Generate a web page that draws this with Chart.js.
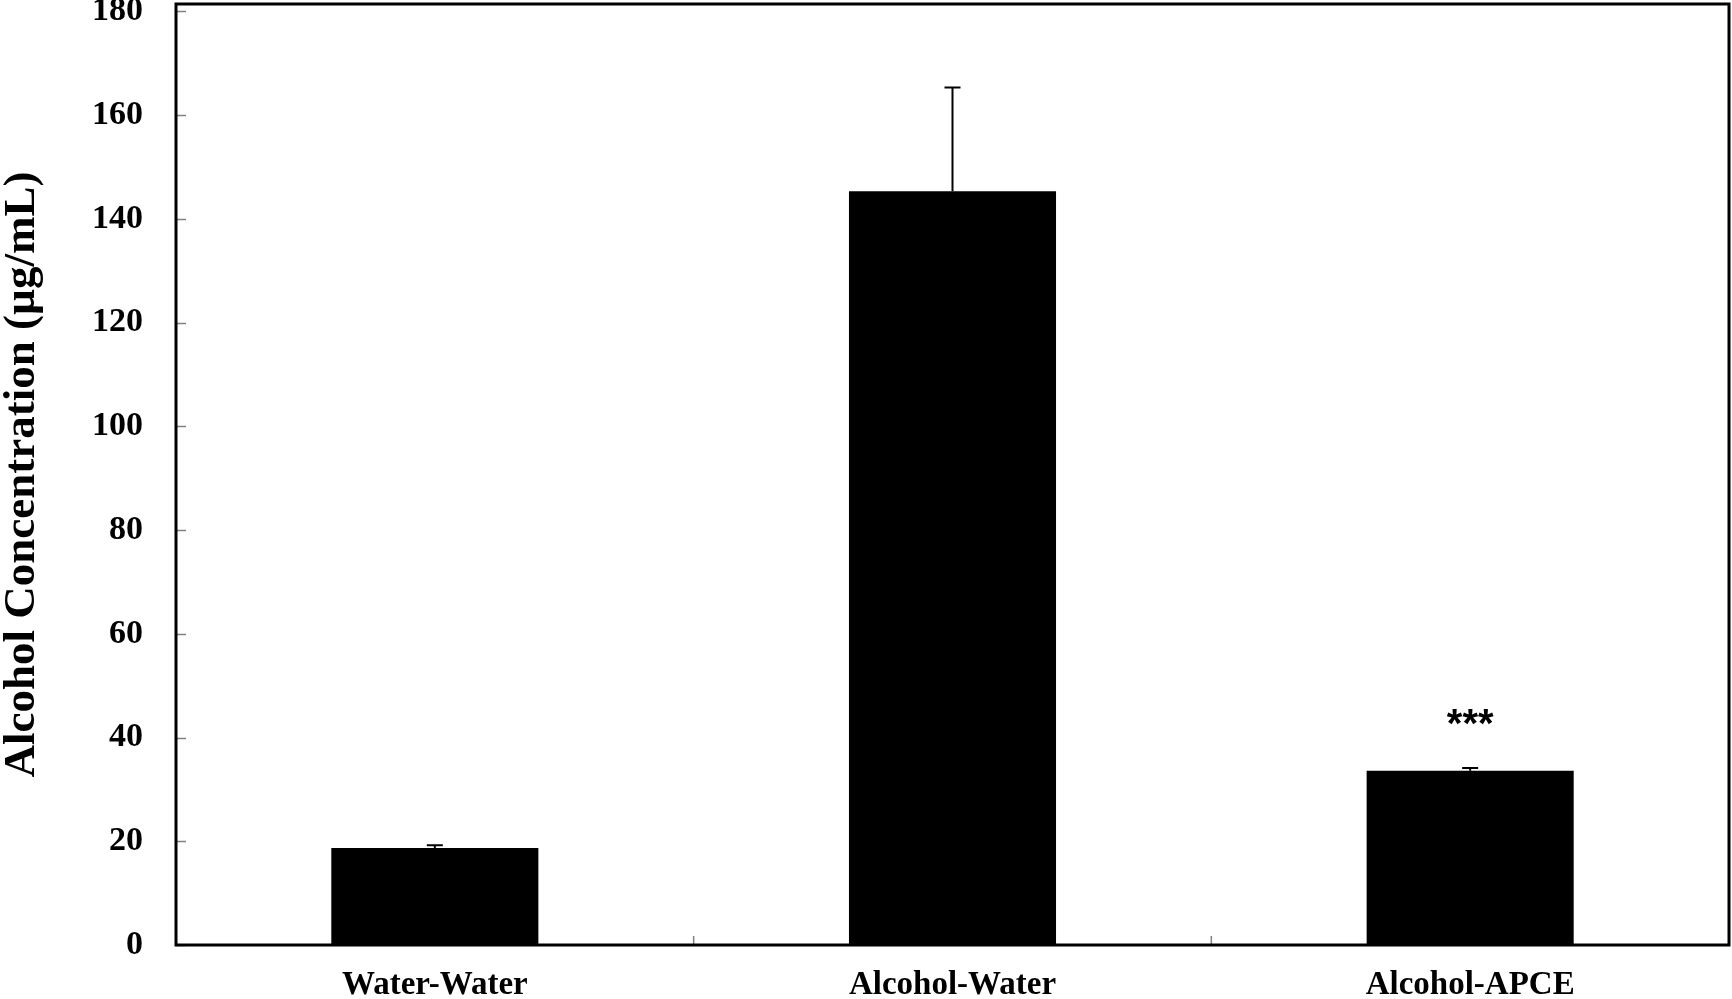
<!DOCTYPE html>
<html>
<head>
<meta charset="utf-8">
<title>Alcohol Concentration</title>
<script src="https://cdn.jsdelivr.net/npm/chart.js@4.4.1/dist/chart.umd.min.js"></script>
<style>
    html, body { margin: 0; padding: 0; background: #ffffff; }
    #wrap { width: 1732px; height: 999px; position: relative; }
</style>
</head>
<body>
<div id="wrap"><canvas id="alcoholChart" width="1732" height="999"></canvas></div>
<script>
// values
const categories = ['Water-Water', 'Alcohol-Water', 'Alcohol-APCE'];
const means = [18.7, 145.3, 33.6];
const errors = [0.55, 20.0, 0.5];
const significance = ['', '', '***'];
const yTickValues = [0, 20, 40, 60, 80, 100, 120, 140, 160, 180];

const serif = "'Liberation Serif', 'Times New Roman', serif";

// frame, inward tick marks, error bars and asterisks
const decorPlugin = {
    id: 'decor',
    afterDatasetsDraw(chart) {
        const ctx = chart.ctx;
        const area = chart.chartArea;
        const x = chart.scales.x;
        const y = chart.scales.y;

        ctx.save();
        // error bars (upper only)
        ctx.strokeStyle = '#000000';
        ctx.lineWidth = 2;
        means.forEach(function (m, i) {
            const cx = x.getPixelForValue(i);
            const y0 = y.getPixelForValue(m);
            const y1 = y.getPixelForValue(m + errors[i]);
            ctx.beginPath();
            ctx.moveTo(cx, y0);
            ctx.lineTo(cx, y1);
            ctx.moveTo(cx - 8, y1);
            ctx.lineTo(cx + 8, y1);
            ctx.stroke();
        });

        // inward ticks
        ctx.strokeStyle = '#808080';
        ctx.lineWidth = 1.5;
        yTickValues.forEach(function (v) {
            const py = Math.round(y.getPixelForValue(v)) + 0.5;
            ctx.beginPath();
            ctx.moveTo(area.left, py);
            ctx.lineTo(area.left + 10, py);
            ctx.stroke();
        });
        for (let i = 1; i < categories.length; i++) {
            const px = (x.getPixelForValue(i - 1) + x.getPixelForValue(i)) / 2;
            ctx.beginPath();
            ctx.moveTo(px, area.bottom);
            ctx.lineTo(px, area.bottom - 9);
            ctx.stroke();
        }

        // frame
        ctx.strokeStyle = '#000000';
        ctx.lineWidth = 3;
        ctx.strokeRect(area.left, area.top, area.right - area.left, area.bottom - area.top);

        // significance marks
        ctx.fillStyle = '#000000';
        ctx.font = "bold 40px 'Liberation Sans', Arial, sans-serif";
        ctx.textAlign = 'center';
        ctx.textBaseline = 'middle';
        significance.forEach(function (s, i) {
            if (!s) return;
            const cx = x.getPixelForValue(i);
            const top = y.getPixelForValue(means[i] + errors[i]);
            ctx.fillText(s, cx, top - 42);
        });
        ctx.restore();
    }
};

const ctx = document.getElementById('alcoholChart').getContext('2d');
const chart = new Chart(ctx, {
    type: 'bar',
    data: {
        labels: categories,
        datasets: [{
            label: 'Alcohol Concentration',
            data: means,
            backgroundColor: '#000000',
            borderWidth: 0,
            barPercentage: 0.4,
            categoryPercentage: 1.0
        }]
    },
    options: {
        responsive: false,
        animation: false,
        devicePixelRatio: 1,
        layout: {
            autoPadding: false,
            padding: { top: 4, right: 3, left: 0, bottom: 0 }
        },
        plugins: {
            legend: { display: false },
            tooltip: { enabled: false }
        },
        scales: {
            x: {
                grid: { display: false, drawTicks: false },
                border: { display: false },
                ticks: {
                    color: '#000000',
                    padding: 21,
                    maxRotation: 0,
                    font: { family: serif, size: 33, weight: 'bold' }
                },
                afterFit: function (scale) {
                    scale.height = 54;
                    scale.paddingLeft = 0;
                    scale.paddingRight = 0;
                }
            },
            y: {
                min: 0,
                max: 181.4,
                grid: { display: false, drawTicks: false },
                border: { display: false },
                afterBuildTicks: function (scale) {
                    scale.ticks = yTickValues.map(v => ({ value: v }));
                },
                ticks: {
                    color: '#000000',
                    padding: 33,
                    font: { family: serif, size: 34, weight: 'bold' }
                },
                title: {
                    display: true,
                    text: 'Alcohol Concentration (µg/mL)',
                    color: '#000000',
                    padding: 0,
                    font: { family: serif, size: 45, weight: 'bold', lineHeight: 1 }
                },
                afterFit: function (scale) {
                    scale.width = 176;
                    scale.paddingTop = 0;
                    scale.paddingBottom = 0;
                }
            }
        }
    },
    plugins: [decorPlugin]
});
</script>
</body>
</html>
